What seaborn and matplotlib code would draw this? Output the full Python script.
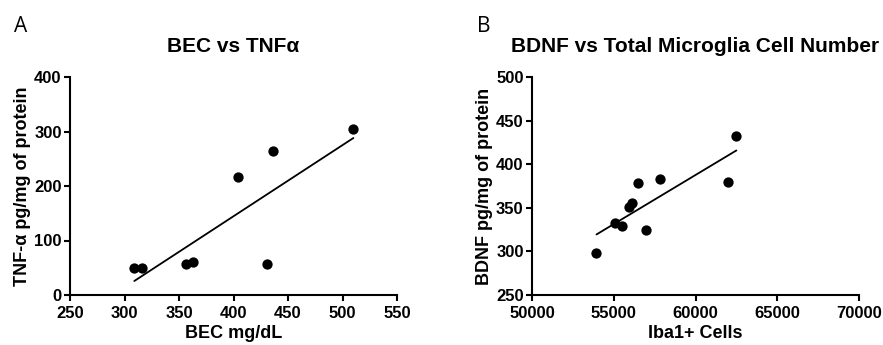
import numpy as np, pandas as pd
import seaborn as sns
import matplotlib.pyplot as plt

# panel A: blood ethanol vs TNF-alpha
bec = [309, 316, 356, 363, 404, 431, 436, 510]
tnf = [50, 50, 56, 60, 216, 56, 265, 305]

# panel B: Iba1+ cells vs BDNF
iba1 = [53943, 55061, 55528, 55935, 56098, 56463, 56972, 57846, 61972, 62500]
bdnf = [298.5, 332.8, 329, 350.4, 355.7, 378.2, 324.4, 382.8, 379.8, 432.8]

df_a = pd.DataFrame({'BEC': bec, 'TNF': tnf})
df_b = pd.DataFrame({'Iba1': iba1, 'BDNF': bdnf})

sns.set_style("ticks")
plt.rcParams['font.family'] = ['Liberation Sans', 'DejaVu Sans']
plt.rcParams['font.weight'] = 'bold'
for k in ['text.color', 'axes.labelcolor', 'xtick.color', 'ytick.color', 'axes.edgecolor']:
    plt.rcParams[k] = 'black'
plt.rcParams['axes.linewidth'] = 1.5
plt.rcParams['xtick.major.width'] = 1.5
plt.rcParams['ytick.major.width'] = 1.5
plt.rcParams['xtick.major.size'] = 4
plt.rcParams['ytick.major.size'] = 4
plt.rcParams['xtick.major.pad'] = 4
plt.rcParams['ytick.major.pad'] = 2

fig = plt.figure(figsize=(8.83, 3.45), dpi=100)
ax1 = fig.add_axes([70/883, 50/345, 327/883, 218/345])
ax2 = fig.add_axes([532/883, 50/345, 327/883, 218/345])

kw = dict(ci=None, truncate=True, color='black',
          scatter_kws=dict(s=55, linewidths=0, alpha=1, zorder=3),
          line_kws=dict(lw=1.3))

sns.regplot(data=df_a, x='BEC', y='TNF', ax=ax1, **kw)
ax1.set_xlim(250, 550)
ax1.set_ylim(0, 400)
ax1.set_xticks([250, 300, 350, 400, 450, 500, 550])
ax1.set_yticks([0, 100, 200, 300, 400])
ax1.set_xlabel('BEC mg/dL', fontsize=13, fontweight='bold', labelpad=3)
ax1.set_ylabel('TNF-α pg/mg of protein', fontsize=13, fontweight='bold', labelpad=2)
ax1.set_title('BEC vs TNFα', fontsize=15, fontweight='bold', pad=18)

sns.regplot(data=df_b, x='Iba1', y='BDNF', ax=ax2, **kw)
ax2.set_xlim(50000, 70000)
ax2.set_ylim(250, 500)
ax2.set_xticks([50000, 55000, 60000, 65000, 70000])
ax2.set_yticks([250, 300, 350, 400, 450, 500])
ax2.set_xlabel('Iba1+ Cells', fontsize=13, fontweight='bold', labelpad=3)
ax2.set_ylabel('BDNF pg/mg of protein', fontsize=13, fontweight='bold', labelpad=2)
ax2.set_title('BDNF vs Total Microglia Cell Number', fontsize=15, fontweight='bold', pad=18)

for ax in (ax1, ax2):
    sns.despine(ax=ax)
    ax.tick_params(labelsize=12)
    for lab in ax.get_xticklabels() + ax.get_yticklabels():
        lab.set_fontweight('bold')

fig.text(14/883, 1 - 32/345, 'A', fontsize=15, fontweight='normal', family='Open Sans', va='baseline')
fig.text(477/883, 1 - 32/345, 'B', fontsize=15, fontweight='normal', family='Open Sans', va='baseline')

fig.savefig('out.png', dpi=100, facecolor='white')
